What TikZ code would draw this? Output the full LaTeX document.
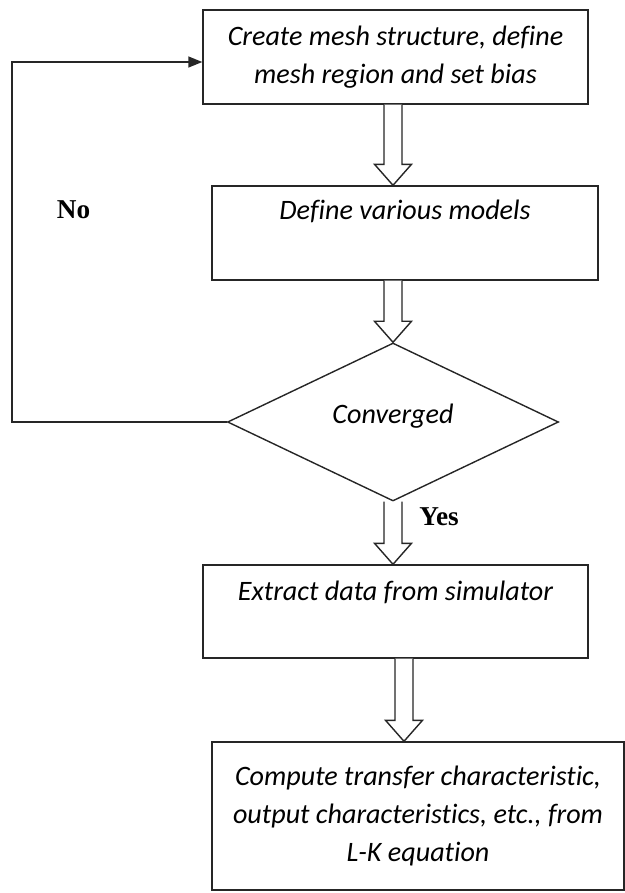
\documentclass[tikz,border=0pt]{standalone}
\usepackage{fontspec}
\setmainfont{Carlito}[Ligatures=NoCommon]
\newfontfamily\labelfont{Liberation Serif}
\usepackage{tikz}
\usetikzlibrary{arrows.meta,positioning,calc,shapes.geometric}

\begin{document}
\begin{tikzpicture}[font=\fontsize{16}{21.6}\selectfont\itshape,
  stepbox/.style={draw=black!85, line width=0.8pt, rectangle, inner sep=0pt, align=center},
  decision/.style={draw=black!85, line width=0.8pt, diamond, inner sep=0pt,
    minimum width=6.62cm, minimum height=2.4cm},
  blockarr/.style={draw=black!85, line width=0.8pt, fill=white},
  line/.style={draw=black!85, line width=0.8pt},
  answer/.style={font=\labelfont\fontsize{15.5}{18}\selectfont\bfseries}]
% fix the page to the reference size
\useasboundingbox (0,0) rectangle (12.5,-17.86);
% hollow block arrow between two points
\def\sw{0.18}\def\hw{0.37}\def\hh{0.42}
\newcommand\hollowarrow[2]{%
  \draw[blockarr] let \p1=(#1), \p2=(#2) in
    (\x1-\sw cm,\y1) -- (\x1-\sw cm,\y2+\hh cm) -- (\x1-\hw cm,\y2+\hh cm) -- (\x1,\y2)
    -- (\x1+\hw cm,\y2+\hh cm) -- (\x1+\sw cm,\y2+\hh cm) -- (\x1+\sw cm,\y1);}

\node[stepbox, minimum width=7.7cm, minimum height=1.88cm] (mesh) at (7.91,-1.14)
  {Create mesh structure, define\\mesh region and set bias};
\node[stepbox, minimum width=7.72cm, text height=0.66cm, text depth=1.22cm] (models) at (8.1,-4.66)
  {Define various models};
\node[decision, text depth=0.35cm] (conv) at (7.86,-8.44) {Converged};
\node[stepbox, minimum width=7.7cm, text height=0.7cm, text depth=1.16cm] (extract) at (7.91,-12.23)
  {Extract data from simulator};
\node[stepbox, minimum width=8.24cm, minimum height=2.96cm] (compute) at (8.36,-16.32)
  {Compute transfer characteristic,\\output characteristics, etc., from\\L-K equation};

% main flow
\hollowarrow{mesh.south -| conv.north}{models.north -| conv.north}
\hollowarrow{models.south -| conv.north}{conv.north}
\hollowarrow{conv.south}{extract.north -| conv.south}
\coordinate (out) at ($(extract.south west)!0.522!(extract.south east)$);
\hollowarrow{out}{compute.north -| out}

% feedback loop
\coordinate (back) at (0.24,-1.24);
\draw[line, -{Triangle[length=2.8mm,width=2.2mm]}] (conv.west) -| (back) -- (back -| mesh.west);

\node[answer] (no) at (1.47,-4.2) {No};
\node[answer] (yes) at (8.78,-10.34) {Yes};
\end{tikzpicture}
\end{document}
